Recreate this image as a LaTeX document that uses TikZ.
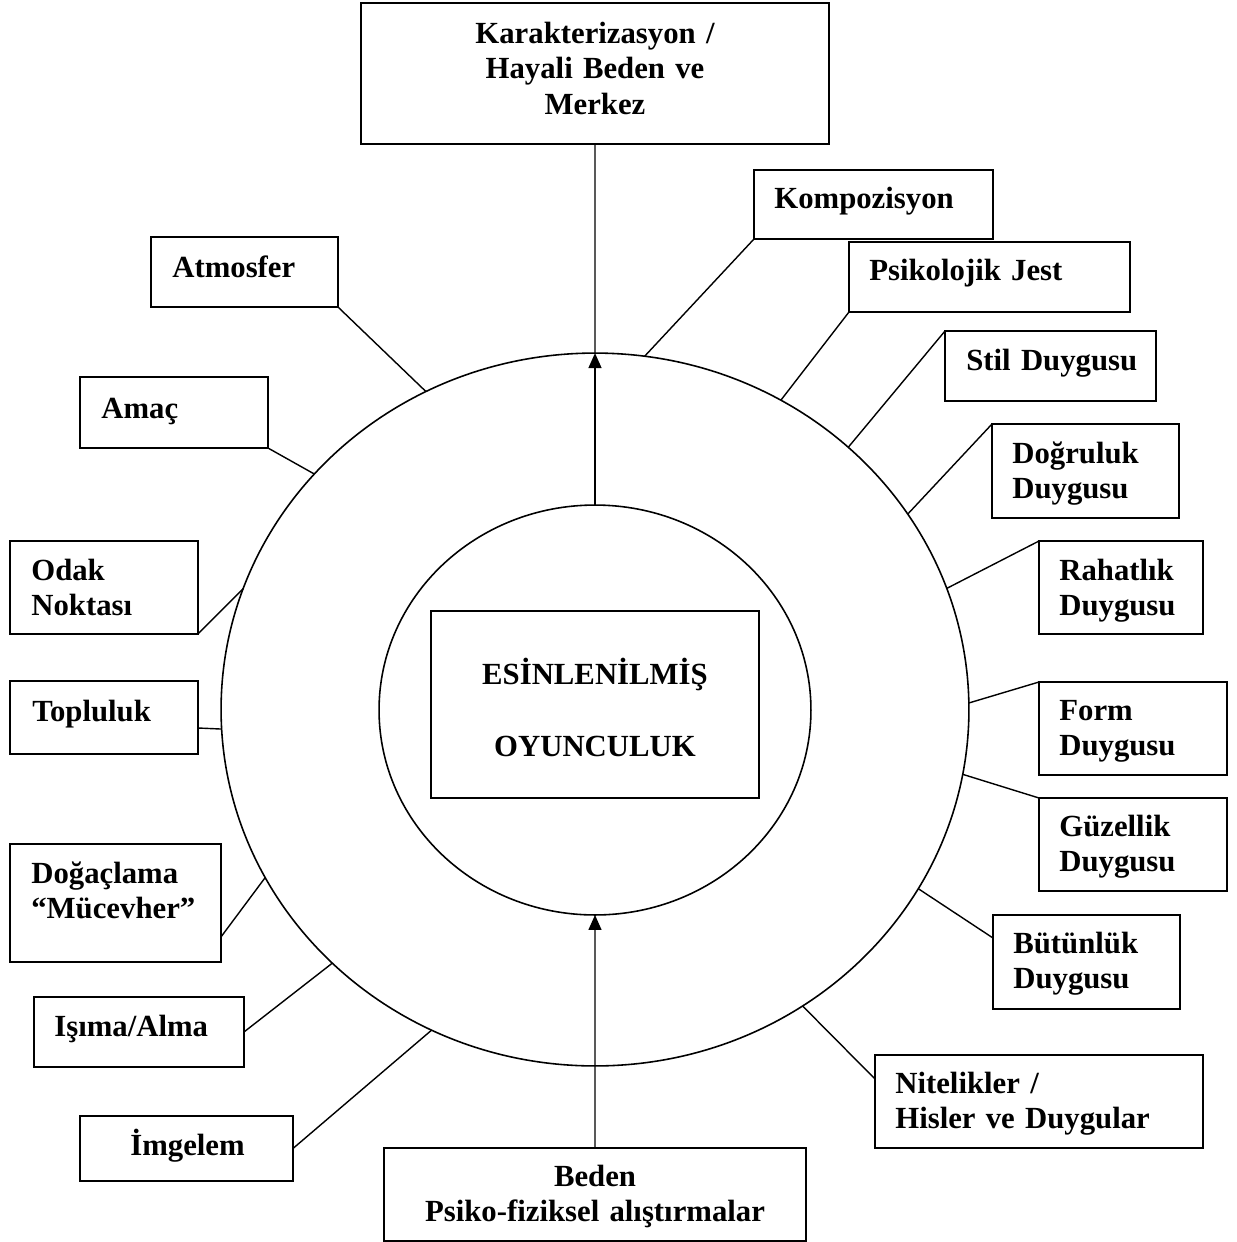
\documentclass[tikz,border=0pt]{standalone}
\usepackage{fontspec}
\setmainfont{Liberation Serif}
\usetikzlibrary{shapes.geometric,arrows.meta}
\begin{document}
\begin{tikzpicture}[x=0.02cm,y=-0.02cm,
  box/.style={draw, line width=1pt, rectangle, anchor=north west, inner sep=0pt, outer sep=0pt},
  lbl/.style={anchor=base west, inner sep=0pt, align=left, text width=#1, font=\fontsize{17.5pt}{20.4pt}\selectfont\bfseries},
  clbl/.style={anchor=base, inner sep=0pt, align=center, text width=#1, font=\fontsize{17.5pt}{20.4pt}\selectfont\bfseries},
  ring/.style={draw, ellipse, line width=0.9pt, inner sep=0pt, outer sep=0pt},
  conn/.style={line width=0.8pt},
  arr/.style={line width=0.8pt, -{Triangle[length=0.3cm,width=0.26cm]}}
]
\useasboundingbox (0,0) rectangle (1237,1242);

% circles
\node[ring, minimum width=14.96cm, minimum height=14.26cm] (outer) at (595,709.5) {};
\node[ring, minimum width=8.64cm, minimum height=8.2cm] (inner) at (595,710) {};

% central box
\node[box, minimum width=6.56cm, minimum height=3.74cm] (core) at (431,611) {};
\node[clbl=6cm] (core-t) at (595,684) {ESİNLENİLMİŞ\\[20.9pt]OYUNCULUK};

% top and bottom boxes
\node[box, minimum width=9.36cm, minimum height=2.82cm] (kar) at (361,3) {};
\node[clbl=9cm] (kar-t) at (595,43) {Karakterizasyon /\\Hayali Beden ve\\Merkez};
\node[box, minimum width=8.44cm, minimum height=1.86cm] (beden) at (384,1148) {};
\node[clbl=8.2cm] (beden-t) at (595,1186) {Beden\\Psiko-fiziksel alıştırmalar};

% right side boxes
\node[box, minimum width=4.78cm, minimum height=1.38cm] (komp) at (754,170) {};
\node[lbl=4.4cm] (komp-t) at (774,208) {Kompozisyon};
\node[box, minimum width=5.62cm, minimum height=1.40cm] (psi) at (849,242) {};
\node[lbl=5.2cm] (psi-t) at (869,280) {Psikolojik Jest};
\node[box, minimum width=4.22cm, minimum height=1.40cm] (stil) at (945,331) {};
\node[lbl=3.9cm] (stil-t) at (966,370) {Stil Duygusu};
\node[box, minimum width=3.74cm, minimum height=1.88cm] (dogr) at (992,424) {};
\node[lbl=3.4cm] (dogr-t) at (1012,463) {Doğruluk\\Duygusu};
\node[box, minimum width=3.28cm, minimum height=1.86cm] (rah) at (1039,541) {};
\node[lbl=3cm] (rah-t) at (1059,580) {Rahatlık\\Duygusu};
\node[box, minimum width=3.76cm, minimum height=1.86cm] (form) at (1039,682) {};
\node[lbl=3.4cm] (form-t) at (1059,720) {Form\\Duygusu};
\node[box, minimum width=3.76cm, minimum height=1.86cm] (guz) at (1039,798) {};
\node[lbl=3.4cm] (guz-t) at (1059,836) {Güzellik\\Duygusu};
\node[box, minimum width=3.74cm, minimum height=1.88cm] (but) at (993,915) {};
\node[lbl=3.4cm] (but-t) at (1013,953) {Bütünlük\\Duygusu};
\node[box, minimum width=6.56cm, minimum height=1.86cm] (nit) at (875,1055) {};
\node[lbl=6.2cm] (nit-t) at (895,1093) {Nitelikler /\\Hisler ve Duygular};

% left side boxes
\node[box, minimum width=3.74cm, minimum height=1.40cm] (atm) at (151,237) {};
\node[lbl=3.4cm] (atm-t) at (172,277) {Atmosfer};
\node[box, minimum width=3.76cm, minimum height=1.42cm] (amac) at (80,377) {};
\node[lbl=3.4cm] (amac-t) at (101,418) {Amaç};
\node[box, minimum width=3.76cm, minimum height=1.86cm] (odak) at (10,541) {};
\node[lbl=3.4cm] (odak-t) at (31,580) {Odak\\Noktası};
\node[box, minimum width=3.76cm, minimum height=1.46cm] (topl) at (10,681) {};
\node[lbl=3.4cm] (topl-t) at (32,721) {Topluluk};
\node[box, minimum width=4.22cm, minimum height=2.36cm] (doga) at (10,844) {};
\node[lbl=3.9cm] (doga-t) at (31,883) {Doğaçlama\\“Mücevher”};
\node[box, minimum width=4.20cm, minimum height=1.40cm] (isi) at (34,997) {};
\node[lbl=3.8cm] (isi-t) at (54,1036) {Işıma/Alma};
\node[box, minimum width=4.26cm, minimum height=1.30cm] (img) at (80,1116) {};
\node[lbl=3.4cm] (img-t) at (130,1155) {İmgelem};

% arrows
\draw[arr] (inner.north) -- (outer.north);
\draw[conn] (outer.north) -- (kar.south);
\draw[arr] (beden.north) -- (inner.south);

% connectors left
\draw[conn] (atm.south east) -- (outer.118);
\draw[conn] (amac.south east) -- (outer.140);
\draw[conn] (odak.south east) -- (outer.161);
\draw[conn] ([yshift=-0.21cm]topl.east) -- (outer.183);
\draw[conn] ([yshift=-0.68cm]doga.east) -- (outer.207);
\draw[conn] (isi.east) -- (outer.224);
\draw[conn] (img.east) -- (outer.243);

% connectors right
\draw[conn] (komp.south west) -- (outer.82);
\draw[conn] (psi.south west) -- (outer.59);
\draw[conn] (stil.north west) -- (outer.46);
\draw[conn] (dogr.north west) -- (outer.32);
\draw[conn] (rah.north west) -- (outer.19);
\draw[conn] (form.north west) -- (outer.1);
\draw[conn] (guz.north west) -- (outer.350);
\draw[conn] ([yshift=0.48cm]but.west) -- (outer.331);
\draw[conn] ([yshift=0.45cm]nit.west) -- (outer.305);
\end{tikzpicture}
\end{document}
